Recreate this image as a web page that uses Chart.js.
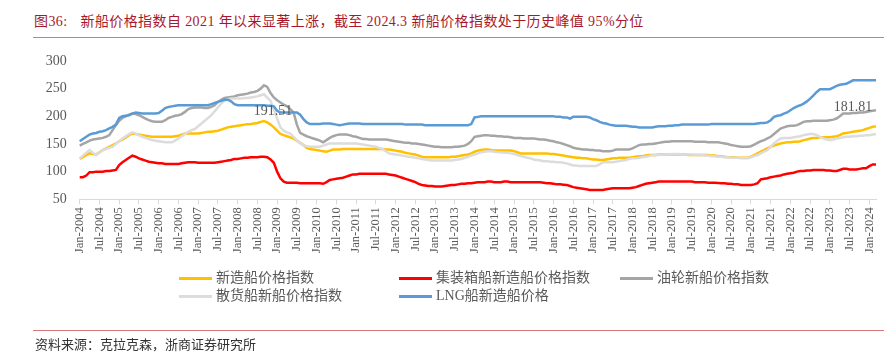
<!DOCTYPE html>
<html>
<head>
<meta charset="utf-8">
<script src="https://cdn.jsdelivr.net/npm/chart.js@4.4.1/dist/chart.umd.min.js"></script>
<style>
  body { margin: 0; width: 890px; height: 353px; background: #fff; position: relative; overflow: hidden;
         font-family: "Liberation Serif", "Noto Sans CJK SC", serif; }
  #title { position: absolute; left: 34px; top: 13px; font-size: 14px; line-height: 17px; color: #A8182A; white-space: nowrap; letter-spacing: 0.4px; }
  #title .gap { display: inline-block; width: 13px; }
  .rule { position: absolute; left: 33px; right: 6px; height: 1px; background: #D9787A; }
  #source { position: absolute; left: 35px; top: 337px; font-size: 13px; line-height: 16px; color: #333; white-space: nowrap; }
  #chart { position: absolute; left: 0; top: 0; }
  .lg { position: absolute; font-size: 14px; line-height: 16px; color: #595959; white-space: nowrap; }
  .lg i { position: absolute; width: 33px; height: 3px; top: 7px; }
</style>
</head>
<body>
<div id="title">图36:<span class="gap"></span>新船价格指数自 2021 年以来显著上涨，截至 2024.3 新船价格指数处于历史峰值 95%分位</div>
<div class="rule" style="top:37px"></div>
<canvas id="chart" width="890" height="353"></canvas>
<div id="legend"></div>
<div class="rule" style="top:330px"></div>
<div id="source">资料来源：克拉克森，浙商证券研究所</div>
<script>
// 月度数据 2004.01 - 2024.03
const monthNames = ['Jan','Feb','Mar','Apr','May','Jun','Jul','Aug','Sep','Oct','Nov','Dec'];
const categories = [];
for (let y = 2004; y <= 2024; y++) {
    for (let m = 0; m < 12; m++) {
        if (y === 2024 && m > 2) break;
        categories.push(monthNames[m] + '-' + y);
    }
}

// 新造船价格指数
const newShip = [
    123,126,130,133,132,131,135,139,142,145,148,151,
    155,158,162,166,169,168,167,166,165,164,163,163,
    163,163,163,163,163,164,165,167,169,169,169,169,
    169,170,171,172,172,173,174,176,178,180,181,182,
    183,184,185,185.5,186,187,188,190,191.51,189,185,180,
    174,168,166,164,162,160,156,152,148,143,141,140,
    139,138,137,136,138,140,140,140,141,141,141,141,
    141,141,141,141,141,141,141,141,141,140,140,139,
    138,137,136,134,133,132,131,129,127,126,126,126,
    126,126,126,126,126,127,127,128,129,130,131,133,
    136,138,139,140,140,139,138,138,138,138,138,138,
    137,135,133,133,133,133,133,133,133,133,133,132,
    132,131,130,129,128,127,126,125,125,124,124,123,
    122,122,121,121,122,123,124,124,125,125,125,125,
    126,127,128,128,129,130,130,130,131,131,131,131,
    131,131,131,131,131,130,130,130,130,130,130,130,
    129,129,128,128,127,126,126,126,125,125,125,125,
    127,130,133,136,139,142,145,147,149,151,152,153,
    153,154,154,155,157,158,160,161,161,162,162,162,
    162,163,164,166,169,170,171,172,173,174,175,177,
    179,181,181.81
];

// 集装箱船新造船价格指数
const container = [
    90,90,93,99,99,100,100,100,101,101,102,103,
    112,117,121,125,129,127,124,122,120,118,117,116,
    115,115,114,114,114,114,114,115,116,117,117,117,
    116,116,116,116,116,116,117,118,119,120,121,123,
    123,124,125,125,126,126,126,127,127,126,122,116,
    100,88,82,80,80,80,80,79,79,79,79,79,
    79,79,78,81,85,86,87,88,89,91,93,95,
    95,96,96,96,96,96,96,96,96,96,95,94,
    93,91,89,87,85,83,81,78,76,75,74,74,
    73,73,73,74,75,76,76,77,78,78,79,79,
    80,81,81,81,82,82,81,81,81,82,82,81,
    81,81,81,81,81,81,81,81,81,80,79,79,
    78,77,77,76.5,76,74,72,71,70,69,68,67,
    67,67,67,67,68,69,70,70,70,70,70,70,
    71,72,74,76,78,79,80,81,82,82,82,82,
    82,82,82,82,82,82,82,81,81,81,81,80,
    80,80,79.5,79,79,78,78,77,77,76,76,76,
    76,77,79,86,87,88,90,91,92,93,95,96,
    97,98,100,101,101,102,102,103,103,103,103,102,
    102,101,101,103,105,105,104,104,104,105,106,106,
    110,113,113
];

// 油轮新船价格指数
const tanker = [
    147,150,153,156,158,159,160,161,163,166,175,184,
    192,197,200,203,205,204,202,199,196,193,191,190,
    190,190,193,197,199,201,202,204,208,213,215,216,
    216,216,215,215,217,220,226,230,233,234,235,236,
    238,239,240,241,243,244,246,250,256,253,242,234,
    229,225,221,218,213,207,185,170,167,164,162,160,
    158,156,153,157,161,164,166,167,167,167,166,164,
    163,161,159,159,158,158,158,158,158,158,157,156,
    155,154,153,152,152,151,151,150,149,148,147,146,
    145,145,144,144,144,144,145,145,146,147,150,155,
    163,164,165,166,166,165,165,164,164,163,163,162,
    161,161,161,160,160,160,160,159,158,158,157,156,
    155,153,152,150,148,146,143,142,141,140,140,139,
    139,138,138,137,137,137,138,140,140,140,140,140,
    142,145,148,149,149,150,150,151,152,153,154,154,
    155,155,155,155,155,155,155,154,154,154,154,153,
    153,153,153,152,151,150,148,147,146,145,145,145,
    146,149,152,155,157,160,163,168,173,178,180,182,
    183,183,184,187,190,191,191,192,192,192,192,192,
    193,194,196,200,205,205,205,206,206,207,207,208,
    209,210,211
];

// 散货船新船价格指数
const bulk = [
    124,129,134,139,134,130,134,139,141,143,145,150,
    155,160,164,168,171,169,166,163,161,159,157,156,
    155,154,153,153,153,156,160,164,168,172,175,177,
    182,187,192,197,202,209,216,223,228,231,232,232,
    232,232,233,233,234,235,236,238,240,234,228,212,
    196,180,174,171,169,163,157,151,148,146,145,145,
    145,145,147,149,151,151,151,151,151,151,151,151,
    151,150,149,148,147,146,145,143,141,137,133,132,
    131,130,129,128,127,126,125,124,123,122,121,120,
    120,120,120,120,120,120,121,122,123,125,127,129,
    131,133,135,136,137,137,136,135,135,134,134,133,
    132,130,128,127,125,124,122,121,120,119,119,118,
    118,117,117,116,115,113,111,111,110,110,110,110,
    110,110,113,117,117,117,117,118,119,120,121,123,
    124,124,125,126,127,128,130,130,130,131,131,131,
    132,132,132,131,131,131,131,130,130,130,129,129,
    128,128,127,127,126,126,125,125,125,124,124,124,
    126,128,130,133,136,139,145,151,156,160,161,161,
    161,162,163,164,166,167,168,168,166,163,160,158,
    157,158,160,161,162,163,163,164,164,165,165,166,
    166,167,168
];

// LNG船新造船价格
const lng = [
    155,159,163,167,169,170,172,173,175,178,181,185,
    197,200,201,202,205,207,206,205,205,205,205,205,
    206,210,215,217,218,219,220,220,220,220,220,220,
    220,220,220,220,222,224,226,228,230,230,227,222,
    220,220,220,220,220,220,220,220,220,219,219,218,
    210,207,207,207,207,207,207,203,195,189,186,186,
    186,186,187,187,187,186,185,184,185,186,187,187,
    187,187,186,186,186,186,186,186,186,186,186,186,
    186,186,186,185,185,185,185,185,185,184,184,184,
    184,184,184,184,184,184,184,184,184,184,184,186,
    198,199,200,200,200,200,200,200,200,200,200,200,
    200,200,200,200,200,200,200,200,200,200,200,200,
    200,199,199,198,198,196,199,199,199,199,199,198,
    195,193,190,188,187,185,184,183,183,183,183,182,
    181,181,180,180,180,180,180,181,182,182,182,183,
    183,184,184,185,185,185,185,185,185,185,185,185,
    186,186,186,186,186,186,186,186,186,186,186,186,
    186,186,187,188,188,189,193,199,201,202,205,207,
    211,215,218,220,223,227,232,238,244,249,249,249,
    249,252,255,257,258,259,262,265,265,265,265,265,
    265,265,265
];

const yTicks = [50, 100, 150, 200, 250, 300];

const seriesList = [
    { name: '新造船价格指数', data: newShip, color: '#FFC000', order: 4 },
    { name: '集装箱船新造船价格指数', data: container, color: '#FF0000', order: 3 },
    { name: '油轮新船价格指数', data: tanker, color: '#A5A5A5', order: 2 },
    { name: '散货船新船价格指数', data: bulk, color: '#DCDCDC', order: 1 },
    { name: 'LNG船新造船价格', data: lng, color: '#5B9BD5', order: 0 }
];

// 数据标注：新造船价格指数 2008 峰值 和 2024.3 值
const notes = [
    { index: 56, dx: 9, dy: -10 },
    { index: 242, dx: -23, dy: -19 }
];

// 图例（按原图两行排列）
const legendPos = [
    { left: 179, top: 270 }, { left: 399, top: 270 }, { left: 620, top: 270 },
    { left: 179, top: 288 }, { left: 399, top: 288 }
];
const legend = document.getElementById('legend');
seriesList.forEach((s, i) => {
    const el = document.createElement('div');
    el.className = 'lg';
    el.style.left = legendPos[i].left + 'px';
    el.style.top = legendPos[i].top + 'px';
    el.style.paddingLeft = '37px';
    el.innerHTML = `<i style="left:0;background:${s.color}"></i>${s.name}`;
    legend.appendChild(el);
});

const notePlugin = {
    id: 'notes',
    afterDatasetsDraw(chart) {
        const ctx = chart.ctx;
        const meta = chart.getDatasetMeta(0);
        ctx.save();
        ctx.font = '14px "Liberation Serif"';
        ctx.fillStyle = '#595959';
        ctx.textAlign = 'center';
        ctx.textBaseline = 'middle';
        notes.forEach(n => {
            const pt = meta.data[n.index];
            ctx.fillText(newShip[n.index].toFixed(2), pt.x + n.dx, pt.y + n.dy);
        });
        ctx.restore();
    }
};

new Chart(document.getElementById('chart').getContext('2d'), {
    type: 'line',
    data: {
        labels: categories,
        datasets: seriesList.map(s => ({
            label: s.name,
            data: s.data,
            borderColor: s.color,
            backgroundColor: s.color,
            borderWidth: 2.5,
            pointRadius: 0,
            tension: 0,
            fill: false,
            order: s.order
        }))
    },
    options: {
        responsive: false,
        animation: false,
        layout: { padding: { left: 0, right: 14, top: 61, bottom: 0 } },
        plugins: {
            legend: { display: false },
            tooltip: { enabled: false }
        },
        scales: {
            x: {
                offset: false,
                afterFit: s => { s.height = 353 - 199.3; },
                grid: { display: true, drawOnChartArea: false, drawTicks: true, tickLength: 5, color: '#D9D9D9' },
                border: { display: true, color: '#D9D9D9', width: 1 },
                ticks: {
                    autoSkip: false,
                    minRotation: 90,
                    maxRotation: 90,
                    padding: 3,
                    color: '#595959',
                    font: { family: 'Liberation Serif', size: 12.5 },
                    callback: function(value, index) {
                        return index % 6 === 0 ? categories[index] : null;
                    }
                }
            },
            y: {
                min: 50,
                max: 300,
                afterFit: s => { s.width = 79.7; },
                afterBuildTicks: s => { s.ticks = yTicks.map(v => ({ value: v })); },
                grid: { display: false, drawTicks: false },
                border: { display: false },
                ticks: {
                    padding: 13,
                    color: '#595959',
                    font: { family: 'Liberation Serif', size: 14 }
                }
            }
        }
    },
    plugins: [notePlugin]
});
</script>
</body>
</html>
